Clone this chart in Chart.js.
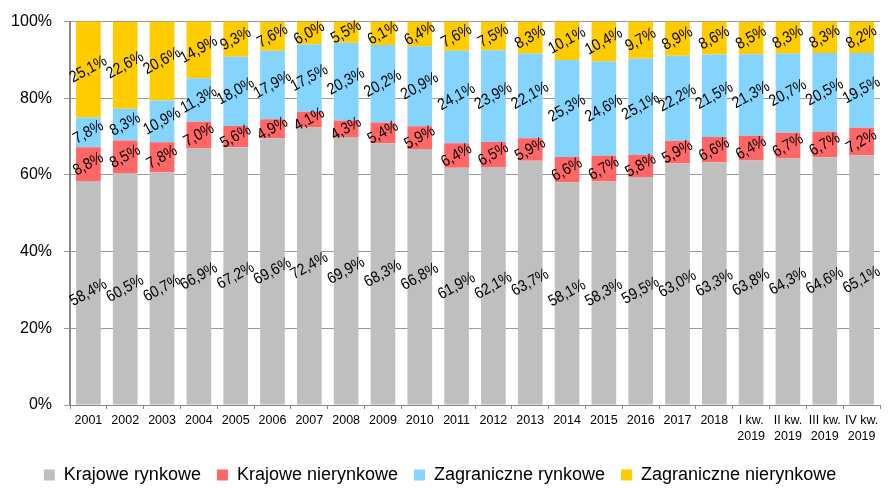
<!DOCTYPE html>
<html lang="pl">
<head>
<meta charset="utf-8">
<title>Struktura</title>
<script src="https://cdn.jsdelivr.net/npm/chart.js@4.4.1/dist/chart.umd.min.js"></script>
<style>
    html, body { margin: 0; padding: 0; background: #fff; }
    #chart { display: block; }
</style>
</head>
<body>
<canvas id="chart" width="891" height="488"></canvas>
<script>
// ===== Data =====
const categories = ['2001', '2002', '2003', '2004', '2005', '2006', '2007', '2008', '2009', '2010',
    '2011', '2012', '2013', '2014', '2015', '2016', '2017', '2018',
    ['I kw.', '2019'], ['II kw.', '2019'], ['III kw.', '2019'], ['IV kw.', '2019']];

const krajoweRynkowe = [58.4, 60.5, 60.7, 66.9, 67.2, 69.6, 72.4, 69.9, 68.3, 66.8, 61.9,
    62.1, 63.7, 58.1, 58.3, 59.5, 63.0, 63.3, 63.8, 64.3, 64.6, 65.1];
const krajoweNierynkowe = [8.8, 8.5, 7.8, 7.0, 5.6, 4.9, 4.1, 4.3, 5.4, 5.9, 6.4,
    6.5, 5.9, 6.6, 6.7, 5.8, 5.9, 6.6, 6.4, 6.7, 6.7, 7.2];
const zagraniczneRynkowe = [7.8, 8.3, 10.9, 11.3, 18.0, 17.9, 17.5, 20.3, 20.2, 20.9, 24.1,
    23.9, 22.1, 25.3, 24.6, 25.1, 22.2, 21.5, 21.3, 20.7, 20.5, 19.5];
const zagraniczneNierynkowe = [25.1, 22.6, 20.6, 14.9, 9.3, 7.6, 6.0, 5.5, 6.1, 6.4, 7.6,
    7.5, 8.3, 10.1, 10.4, 9.7, 8.9, 8.6, 8.5, 8.3, 8.3, 8.2];

const yTicks = [0, 20, 40, 60, 80, 100];

const FONT = '"Liberation Sans", Arial, sans-serif';

// ===== Rotated value labels =====
const valueLabels = {
    id: 'valueLabels',
    afterDatasetsDraw(chart) {
        const ctx = chart.ctx;
        ctx.save();
        ctx.font = '16px ' + FONT;
        ctx.fillStyle = '#000';
        ctx.textAlign = 'center';
        ctx.textBaseline = 'middle';
        chart.data.datasets.forEach((ds, i) => {
            const meta = chart.getDatasetMeta(i);
            meta.data.forEach((bar, j) => {
                const v = ds.data[j];
                const text = v.toFixed(1).replace('.', ',') + '%';
                const cy = (bar.y + bar.base) / 2;
                ctx.save();
                ctx.translate(bar.x, cy);
                ctx.rotate(-0.5);
                ctx.scale(0.88, 1); // narrower, closer to the original font
                ctx.fillText(text, 0, 0);
                ctx.restore();
            });
        });
        ctx.restore();
    }
};

// ===== Chart =====
const ctx = document.getElementById('chart').getContext('2d');
new Chart(ctx, {
    type: 'bar',
    data: {
        labels: categories,
        datasets: [
            { label: 'Krajowe rynkowe', data: krajoweRynkowe, backgroundColor: '#bfbfbf' },
            { label: 'Krajowe nierynkowe', data: krajoweNierynkowe, backgroundColor: '#ff6666' },
            { label: 'Zagraniczne rynkowe', data: zagraniczneRynkowe, backgroundColor: '#85d4fe' },
            { label: 'Zagraniczne nierynkowe', data: zagraniczneNierynkowe, backgroundColor: '#ffcc00' }
        ]
    },
    options: {
        responsive: false,
        animation: false,
        layout: { padding: { top: 19, right: 11, left: 0, bottom: -6 } },
        datasets: {
            bar: { categoryPercentage: 1, barPercentage: 0.67, borderWidth: 0 }
        },
        plugins: {
            legend: {
                position: 'bottom',
                labels: {
                    font: { family: FONT, size: 18 },
                    color: '#000',
                    boxWidth: 11,
                    boxHeight: 11,
                    padding: 16
                }
            },
            tooltip: { enabled: false }
        },
        scales: {
            x: {
                stacked: true,
                afterFit(scale) { scale.height = 45; },
                grid: { drawOnChartArea: false, offset: true, color: '#888', tickLength: 4 },
                border: { color: '#888', width: 1 },
                ticks: {
                    color: '#000',
                    font: { family: FONT, size: 12.5, lineHeight: 1.25 },
                    maxRotation: 0,
                    autoSkip: false,
                    padding: 4
                }
            },
            y: {
                stacked: true,
                min: 0,
                max: 100,
                afterFit(scale) { scale.width = 70; },
                afterBuildTicks(scale) { scale.ticks = yTicks.map(v => ({ value: v })); },
                grid: { color: '#999', tickLength: 6 },
                border: { color: '#888', width: 2 },
                ticks: {
                    color: '#000',
                    font: { family: FONT, size: 16 },
                    padding: 12,
                    callback: v => v + '%'
                }
            }
        }
    },
    plugins: [valueLabels]
});
</script>
</body>
</html>
